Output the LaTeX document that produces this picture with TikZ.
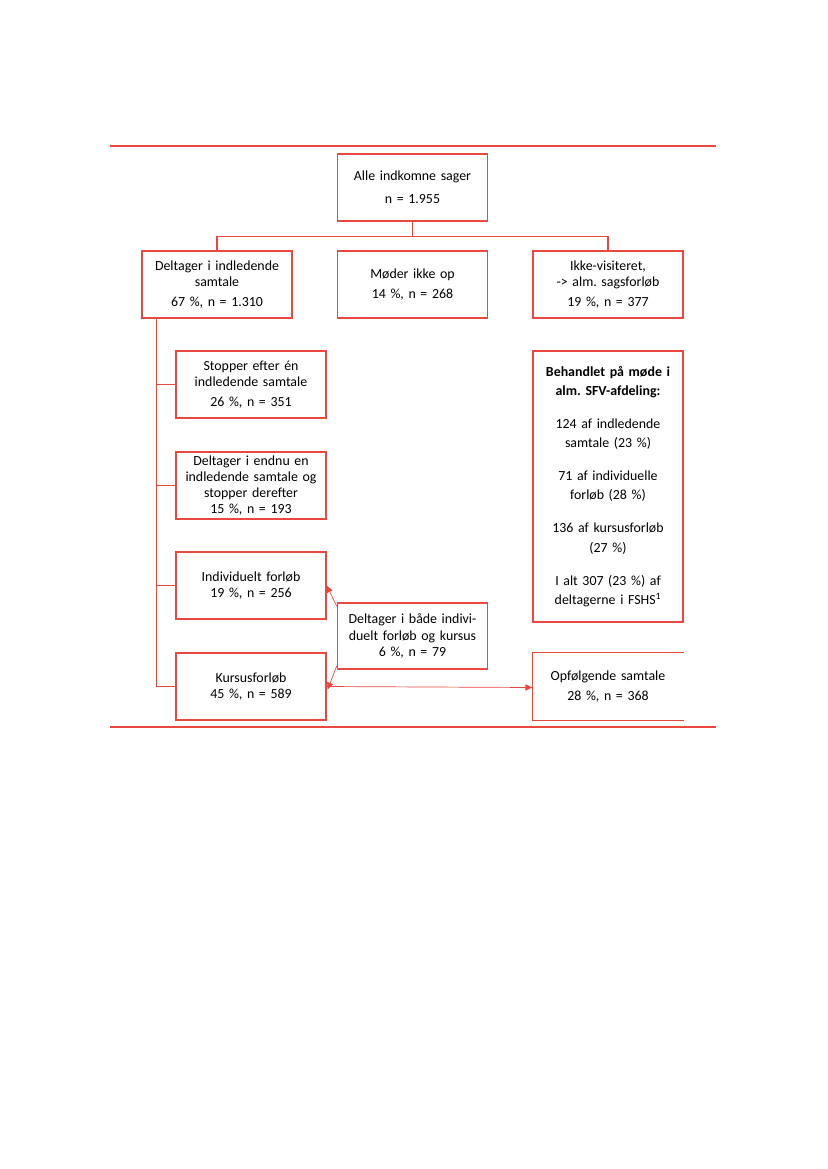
\documentclass[tikz,border=0pt]{standalone}
\usepackage{fontspec}
\setmainfont{Carlito}
\usetikzlibrary{arrows.meta,calc}
\definecolor{lr}{RGB}{232,72,62}
\frenchspacing
\begin{document}
\begin{tikzpicture}[x=0.72pt,y=-0.72pt,
  box/.style={draw=lr,line width=0.9pt,inner sep=0pt,align=center,
    minimum width=108pt,minimum height=48.2pt,text width=104pt,
    font=\fontsize{10}{11.6}\selectfont},
  conn/.style={draw=lr,line width=0.9pt},
  arr/.style={draw=lr,line width=0.5pt,-{Triangle[length=5pt,width=4.5pt,fill=lr]}},
  rule/.style={draw=lr,line width=1.1pt}]
\useasboundingbox (0,0) rectangle (827,1169);
\fill[white] (0,0) rectangle (827,1169);
\coordinate (r1a) at (110,146); \coordinate (r1b) at (716,146);
\coordinate (r2a) at (110,727); \coordinate (r2b) at (716,727);
\draw[rule] (r1a) -- (r1b);
\draw[rule] (r2a) -- (r2b);

\node[box] (alle) at (412.5,187.5) {Alle indkomne sager\\[5pt] n = 1.955};
\node[box] (delt) at (217,284.5) {Deltager i indledende\\samtale\\[3pt]67 \%, n = 1.310};
\node[box] (moder) at (412.5,284.5) {Møder ikke op\\[3pt]14 \%, n = 268};
\node[box] (ikke) at (608,284.5) {Ikke-visiteret,\\-> alm. sagsforløb\\[3pt]19 \%, n = 377};
\node[box] (stop) at (251,384.5) {Stopper efter én\\indledende samtale\\[3pt]26 \%, n = 351};
\node[box] (endnu) at (251,485.5) {Deltager i endnu en\\indledende samtale og\\stopper derefter\\15 \%, n = 193};
\node[box] (indiv) at (251,585.5) {Individuelt forløb\\19 \%, n = 256};
\node[box] (kursus) at (251,686.5) {Kursusforløb\\45 \%, n = 589};
\node[box,minimum height=47.5pt] (begge) at (412.5,636) {Deltager i både indivi-\\duelt forløb og kursus\\6 \%, n = 79};
\node[box,minimum height=195pt,font=\fontsize{10}{13.8}\selectfont] (behand) at (608,486.5)
  {\textbf{Behandlet på møde i}\\\textbf{alm. SFV-afdeling:}\\[10pt]
   124 af indledende\\samtale (23 \%)\\[10pt]
   71 af individuelle\\forløb (28 \%)\\[10pt]
   136 af kursusforløb\\(27 \%)\\[10pt]
   I alt 307 (23 \%) af\\deltagerne i FSHS\textsuperscript{1}};
\node[box,draw=none] (opf) at (608,686.5) {Opfølgende samtale\\[3pt]28 \%, n = 368};
\draw[conn] (opf.north east) -- (opf.north west) -- (opf.south west) -- (opf.south east);

% connectors
\draw[conn] (alle.south) -- ++(0,15) coordinate (j);
\draw[conn] (delt.north) |- (j) -| (ikke.north);
\coordinate (t0) at ($(delt.south west)+(15,0)$);
\coordinate (t1) at (t0 |- kursus.west);
\draw[conn] (t0) -- (t1) -- (kursus.west);
\draw[conn] (stop.west -| t0) -- (stop.west);
\draw[conn] (endnu.west -| t0) -- (endnu.west);
\draw[conn] (indiv.west -| t0) -- (indiv.west);

\draw[arr] ($(begge.north west)+(0,4)$) -- (indiv.east);
\draw[arr] ($(begge.south west)+(0,-4)$) -- ($(kursus.east)+(1,3)$);
\draw[arr] (kursus.east) -- ($(opf.west)+(0,1)$);
\end{tikzpicture}
\end{document}
